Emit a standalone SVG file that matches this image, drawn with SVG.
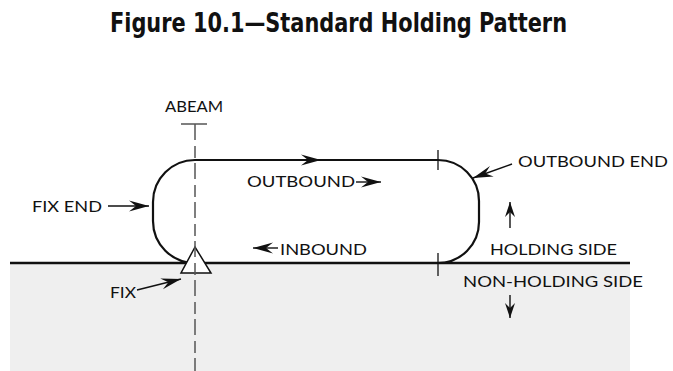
<svg xmlns="http://www.w3.org/2000/svg" width="673" height="371" viewBox="0 0 673 371">
<style>
  .lbl { font-family: "Lato", "Open Sans", "Liberation Sans", sans-serif; font-size: 15.5px; fill: #111; }
  .title { font-family: "Liberation Sans Narrow", "DejaVu Sans Condensed", "Liberation Sans", sans-serif; font-weight: bold; font-size: 27px; fill: #111; }
  .track { fill: none; stroke: #111; stroke-width: 2.2; }
  .tick { stroke: #111; stroke-width: 1.3; }
  .conn { fill: none; stroke: #111; stroke-width: 1.4; }
  .dash { fill: none; stroke: #555; stroke-width: 1.5; }
</style>
<defs>
  <marker id="ah" markerUnits="userSpaceOnUse" viewBox="-21 -6 22 12" refX="0" refY="0" markerWidth="22" markerHeight="12" orient="auto">
    <path d="M0,0 L-20,-5.5 L-13,0 L-20,5.5 Z" fill="#111"/>
  </marker>
  <marker id="ahs" markerUnits="userSpaceOnUse" viewBox="-17 -6 18 12" refX="0" refY="0" markerWidth="18" markerHeight="12" orient="auto">
    <path d="M0,0 L-15,-5 L-10,0 L-15,5 Z" fill="#111"/>
  </marker>
</defs>

<g id="title">
  <text class="title" x="110" y="32" textLength="457" lengthAdjust="spacingAndGlyphs">Figure 10.1—Standard Holding Pattern</text>
</g>

<g id="non-holding-area">
  <rect x="10" y="263" width="620" height="108" fill="#efefef"/>
  <line x1="10" y1="263" x2="630" y2="263" stroke="#111" stroke-width="2.4"/>
</g>

<g id="pattern">
  <path class="track" d="M438,160 H195 A42,42 0 0 0 153,202 V221 A42,42 0 0 0 195,263"/>
  <path class="track" d="M438,160 A41,41 0 0 1 479,201 V222 A41,41 0 0 1 438,263"/>
  <line class="tick" x1="438" y1="150" x2="438" y2="170"/>
  <line class="tick" x1="438" y1="253" x2="438" y2="276"/>
</g>

<g id="fix">
  <polygon points="195,247 181,273 211,273" fill="#fff" stroke="#111" stroke-width="1.5"/>
</g>

<g id="abeam">
  <line x1="181" y1="124" x2="207" y2="124" stroke="#555" stroke-width="1.5"/>
  <line class="dash" x1="195" y1="124" x2="195" y2="371" stroke-dasharray="16 6 12 5"/>
  <text class="lbl" x="165" y="112" textLength="58" lengthAdjust="spacingAndGlyphs">ABEAM</text>
</g>

<g id="connectors">
  <path class="conn" d="M296,160 L321,160" marker-end="url(#ah)"/>
  <path class="conn" d="M356,182 L381,182" marker-end="url(#ah)"/>
  <path class="conn" d="M278,248 L253,248" marker-end="url(#ah)"/>
  <path class="conn" d="M512,164 L473,178" marker-end="url(#ah)"/>
  <path class="conn" d="M108,206 L149,206" marker-end="url(#ah)"/>
  <path class="conn" d="M137,290 L181,279" marker-end="url(#ah)"/>
  <path class="conn" d="M510,228 L510,202" marker-end="url(#ahs)"/>
  <path class="conn" d="M510,295 L510,318" marker-end="url(#ahs)"/>
</g>

<g id="labels">
  <text class="lbl" x="247" y="187" textLength="108" lengthAdjust="spacingAndGlyphs">OUTBOUND</text>
  <text class="lbl" x="280" y="255" textLength="87" lengthAdjust="spacingAndGlyphs">INBOUND</text>
  <text class="lbl" x="518" y="167" textLength="150" lengthAdjust="spacingAndGlyphs">OUTBOUND END</text>
  <text class="lbl" x="490" y="255" textLength="127" lengthAdjust="spacingAndGlyphs">HOLDING SIDE</text>
  <text class="lbl" x="463" y="287" textLength="180" lengthAdjust="spacingAndGlyphs">NON-HOLDING SIDE</text>
  <text class="lbl" x="32" y="212" textLength="70" lengthAdjust="spacingAndGlyphs">FIX END</text>
  <text class="lbl" x="110" y="298" textLength="26" lengthAdjust="spacingAndGlyphs">FIX</text>
</g>
</svg>
